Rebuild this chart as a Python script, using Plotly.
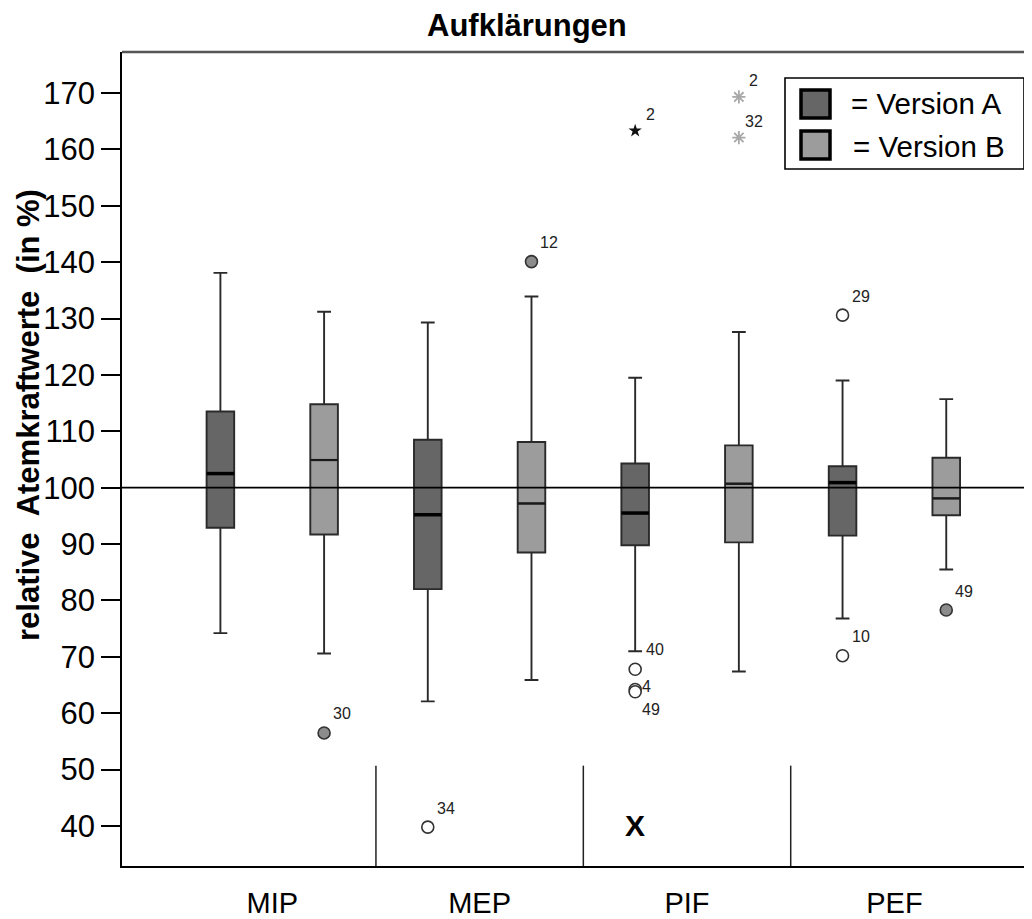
import plotly.graph_objects as go

# ---------------- data ----------------
categories = ["MIP", "MEP", "PIF", "PEF"]

a_lower  = [74.2, 62.1, 71.0, 76.8]
a_q1     = [92.9, 82.0, 89.8, 91.5]
a_median = [102.5, 95.2, 95.5, 100.9]
a_q3     = [113.5, 108.5, 104.3, 103.8]
a_upper  = [138.1, 129.3, 119.5, 119.0]

b_lower  = [70.6, 65.9, 67.4, 85.5]
b_q1     = [91.7, 88.5, 90.3, 95.1]
b_median = [104.9, 97.2, 100.7, 98.1]
b_q3     = [114.8, 108.1, 107.5, 105.3]
b_upper  = [131.2, 133.9, 127.6, 115.7]

# outliers: (category, version, value, case id)
outlier_cat   = ["MIP", "MEP", "MEP", "PIF", "PIF", "PIF", "PEF", "PEF", "PEF"]
outlier_ver   = ["B",   "A",   "B",   "A",   "A",   "A",   "A",   "A",   "B"]
outlier_val   = [56.5,  39.8,  140.1, 67.8,  64.2,  63.8,  130.6, 70.2,  78.3]
outlier_id    = ["30",  "34",  "12",  "40",  "4",   "49",  "29",  "10",  "49"]

# extremes (stars)
extreme_cat = ["PIF", "PIF", "PIF"]
extreme_ver = ["A",   "B",   "B"]
extreme_val = [163.3, 169.3, 162.1]
extreme_id  = ["2",   "2",   "32"]

reference_value = 100
divider_top = 50.7
missing_cat, missing_ver, missing_val, missing_text = "PIF", "A", 40, "X"

y_ticks = [40, 50, 60, 70, 80, 90, 100, 110, 120, 130, 140, 150, 160, 170]
y_range = [32.9, 177.27]

# ---------------- style ----------------
FONT = "Liberation Sans, Arial, sans-serif"
col_a = "#666666"
col_b = "#9c9c9c"
edge = "#2a2a2a"
offset = {"A": -0.25, "B": 0.25}
box_w = 0.133
x_range = [-0.7245, 3.6635]

OFF = 8                      # page body margin
PL, PT, W, H = 122, 52, 910, 814
FIG_W, FIG_H = 1032 - OFF, 919 - OFF
L, T = PL - OFF, PT - OFF


def px(xp):
    return (xp - PL) / W


def py(yp):
    return (PT + H - yp) / H


def pos(cat, ver):
    return categories.index(cat) + offset[ver]


label_shift_default = (18, 19)
label_shift_special = {("PIF", "A", "4"): (11, 3), ("PIF", "A", "49"): (16, -18),
                       ("PIF", "A", "40"): (20, 20)}

fig = go.Figure()

for ver, fill, lo, q1, md, q3, hi, mw in [
    ("A", col_a, a_lower, a_q1, a_median, a_q3, a_upper, 3.5),
    ("B", col_b, b_lower, b_q1, b_median, b_q3, b_upper, 2.2),
]:
    xs = [i + offset[ver] for i in range(len(categories))]
    fig.add_trace(go.Box(
        x=xs, q1=q1, median=md, q3=q3, lowerfence=lo, upperfence=hi,
        width=box_w, whiskerwidth=0.5, fillcolor=fill,
        line=dict(color=edge, width=1.9), boxpoints=False,
        showlegend=False, hoverinfo="skip",
    ))
    mx, my = [], []
    for x, m in zip(xs, md):
        mx += [x - box_w / 2, x + box_w / 2, None]
        my += [m, m, None]
    fig.add_trace(go.Scatter(x=mx, y=my, mode="lines",
                             line=dict(color="#000000" if ver == "A" else "#1a1a1a", width=mw),
                             showlegend=False, hoverinfo="skip"))

# outliers
for ver in ["A", "B"]:
    xs = [pos(c, v) for c, v in zip(outlier_cat, outlier_ver) if v == ver]
    ys = [val for val, v in zip(outlier_val, outlier_ver) if v == ver]
    fig.add_trace(go.Scatter(
        x=xs, y=ys, mode="markers",
        marker=dict(symbol="circle", size=12,
                    color="#ffffff" if ver == "A" else "#8c8c8c",
                    line=dict(color="#333333", width=1.6)),
        showlegend=False, hoverinfo="skip"))

# extremes
xs = [pos(c, v) for c, v in zip(extreme_cat, extreme_ver) if v == "A"]
ys = [val for val, v in zip(extreme_val, extreme_ver) if v == "A"]
fig.add_trace(go.Scatter(x=xs, y=ys, mode="markers",
                         marker=dict(symbol="star", size=10, color="#111111"),
                         showlegend=False, hoverinfo="skip"))
xs = [pos(c, v) for c, v in zip(extreme_cat, extreme_ver) if v == "B"]
ys = [val for val, v in zip(extreme_val, extreme_ver) if v == "B"]
fig.add_trace(go.Scatter(x=xs, y=ys, mode="markers",
                         marker=dict(symbol="asterisk-open", size=11, color="#a8a8a8",
                                     line=dict(color="#a8a8a8", width=1.8)),
                         showlegend=False, hoverinfo="skip"))

annotations = []
for c, v, val, cid in list(zip(outlier_cat, outlier_ver, outlier_val, outlier_id)) + \
        list(zip(extreme_cat, extreme_ver, extreme_val, extreme_id)):
    dx, dy = label_shift_special.get((c, v, cid), label_shift_default)
    if c == "PIF" and cid in ("2", "32"):
        dx, dy = 15, 16
    annotations.append(dict(x=pos(c, v), y=val, xref="x", yref="y", text=cid,
                            showarrow=False, xshift=dx, yshift=dy,
                            xanchor="center", yanchor="middle",
                            font=dict(family=FONT, size=16, color="#222222")))

annotations.append(dict(x=pos(missing_cat, missing_ver), y=missing_val, xref="x", yref="y",
                        text="<b>" + missing_text + "</b>", showarrow=False,
                        xanchor="center", yanchor="middle",
                        font=dict(family=FONT, size=30, color="#000000")))

annotations.append(dict(x=px(527), y=py(26), xref="paper", yref="paper",
                        xanchor="center", yanchor="middle",
                        text="<b>Aufklärungen</b>", showarrow=False,
                        font=dict(family=FONT, size=31, color="#000000")))
annotations.append(dict(x=px(28), y=py(415), xref="paper", yref="paper",
                        xanchor="center", yanchor="middle",
                        text="<b>relative\u00a0 Atemkraftwerte\u00a0 (in %)</b>",
                        textangle=-90, showarrow=False,
                        font=dict(family=FONT, size=31, color="#000000")))
annotations.append(dict(x=px(849), y=py(103), xref="paper", yref="paper",
                        xanchor="left", yanchor="middle",
                        text="= Version A", showarrow=False,
                        font=dict(family=FONT, size=29.5, color="#000000")))
annotations.append(dict(x=px(851), y=py(146), xref="paper", yref="paper",
                        xanchor="left", yanchor="middle",
                        text="= Version B", showarrow=False,
                        font=dict(family=FONT, size=29.5, color="#000000")))

shapes = []
shapes.append(dict(type="line", xref="paper", yref="y", x0=0, x1=1,
                   y0=reference_value, y1=reference_value,
                   line=dict(color="#000000", width=1.6), layer="above"))
for i in range(len(categories) - 1):
    shapes.append(dict(type="line", xref="x", yref="y", x0=i + 0.5, x1=i + 0.5,
                       y0=y_range[0], y1=divider_top,
                       line=dict(color="#222222", width=1.5)))
shapes.append(dict(type="line", xref="paper", yref="paper", x0=0, x1=1, y0=1, y1=1,
                   line=dict(color="#555555", width=2.5)))
shapes.append(dict(type="rect", xref="paper", yref="paper",
                   x0=px(785), x1=px(1024), y0=py(169), y1=py(78),
                   line=dict(color="#000000", width=1.6), fillcolor="#ffffff", layer="above"))
shapes.append(dict(type="rect", xref="paper", yref="paper",
                   x0=px(801), x1=px(830), y0=py(118), y1=py(90),
                   line=dict(color="#000000", width=3.5), fillcolor=col_a, layer="above"))
shapes.append(dict(type="rect", xref="paper", yref="paper",
                   x0=px(801), x1=px(830), y0=py(159), y1=py(131),
                   line=dict(color="#000000", width=3.5), fillcolor=col_b, layer="above"))

fig.update_layout(
    width=FIG_W, height=FIG_H,
    margin=dict(l=L, r=FIG_W - L - W, t=T, b=FIG_H - T - H, autoexpand=False),
    paper_bgcolor="#ffffff", plot_bgcolor="#ffffff",
    showlegend=False,
    annotations=annotations, shapes=shapes,
    xaxis=dict(range=x_range, tickvals=list(range(len(categories))), ticktext=categories,
               showgrid=False, zeroline=False, showline=True, linecolor="#000000",
               linewidth=1.6, ticks="", ticklabelstandoff=10,
               tickfont=dict(family=FONT, size=29, color="#000000")),
    yaxis=dict(range=y_range, tickvals=y_ticks, showgrid=False, zeroline=False,
               showline=True, linecolor="#000000", linewidth=1.6,
               ticks="outside", ticklen=19, tickwidth=1.6, tickcolor="#000000",
               tickfont=dict(family=FONT, size=31, color="#000000")),
)

fig.write_html("out.html")
